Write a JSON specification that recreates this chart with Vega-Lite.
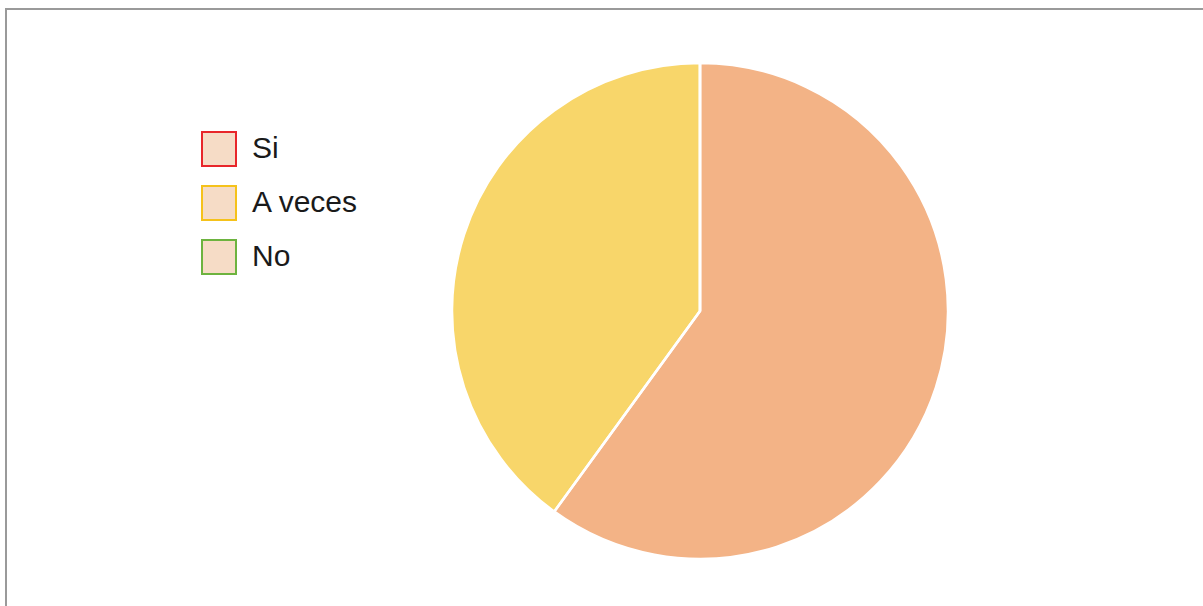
{
  "$schema": "https://vega.github.io/schema/vega-lite/v6.json",
  "width": 1388,
  "height": 604,
  "autosize": {"type": "none"},
  "padding": {"left": 6, "top": 9, "right": 0, "bottom": 0},
  "background": "white",
  "config": {
    "view": {"stroke": null},
    "font": "Liberation Sans"
  },
  "data": {
    "values": [
      {"respuesta": "Si", "porcentaje": 60, "orden": 1},
      {"respuesta": "A veces", "porcentaje": 40, "orden": 2},
      {"respuesta": "No", "porcentaje": 0, "orden": 3}
    ]
  },
  "layer": [
    {
      "data": {"values": [{"marco": 1}]},
      "mark": {"type": "rect", "fill": null, "fillOpacity": 0, "stroke": "#9a9a9a", "strokeWidth": 2},
      "encoding": {}
    },
    {
      "mark": {"type": "arc", "radius": 248, "strokeOpacity": 0},
      "encoding": {
        "theta": {"field": "porcentaje", "type": "quantitative", "stack": true},
        "order": {"field": "orden", "type": "quantitative"},
        "fill": {
          "field": "respuesta",
          "type": "nominal",
          "scale": {"domain": ["A veces", "Si", "No"], "range": ["#f8d66a", "#f3b386", "#b5d69a"]},
          "legend": null
        },
        "stroke": {
          "field": "respuesta",
          "type": "nominal",
          "scale": {"domain": ["Si", "A veces", "No"], "range": ["#e8262a", "#f5c21b", "#6db33f"]},
          "legend": {
            "title": null,
            "orient": "none",
            "legendX": 195,
            "legendY": 122,
            "padding": 0,
            "symbolType": "square",
            "symbolSize": 1156,
            "symbolStrokeWidth": 2,
            "symbolOpacity": 1,
            "symbolFillColor": "#f6dcc6",
            "labelFontSize": 30,
            "labelFont": "Liberation Sans",
            "labelColor": "#1a1a1a",
            "labelOffset": 15,
            "rowPadding": 12,
            "labelLimit": 300
          }
        }
      }
    },
    {
      "mark": {"type": "arc", "radius": 248, "fillOpacity": 0, "stroke": "white", "strokeWidth": 2.5},
      "encoding": {
        "theta": {"field": "porcentaje", "type": "quantitative", "stack": true},
        "order": {"field": "orden", "type": "quantitative"}
      }
    }
  ]
}
